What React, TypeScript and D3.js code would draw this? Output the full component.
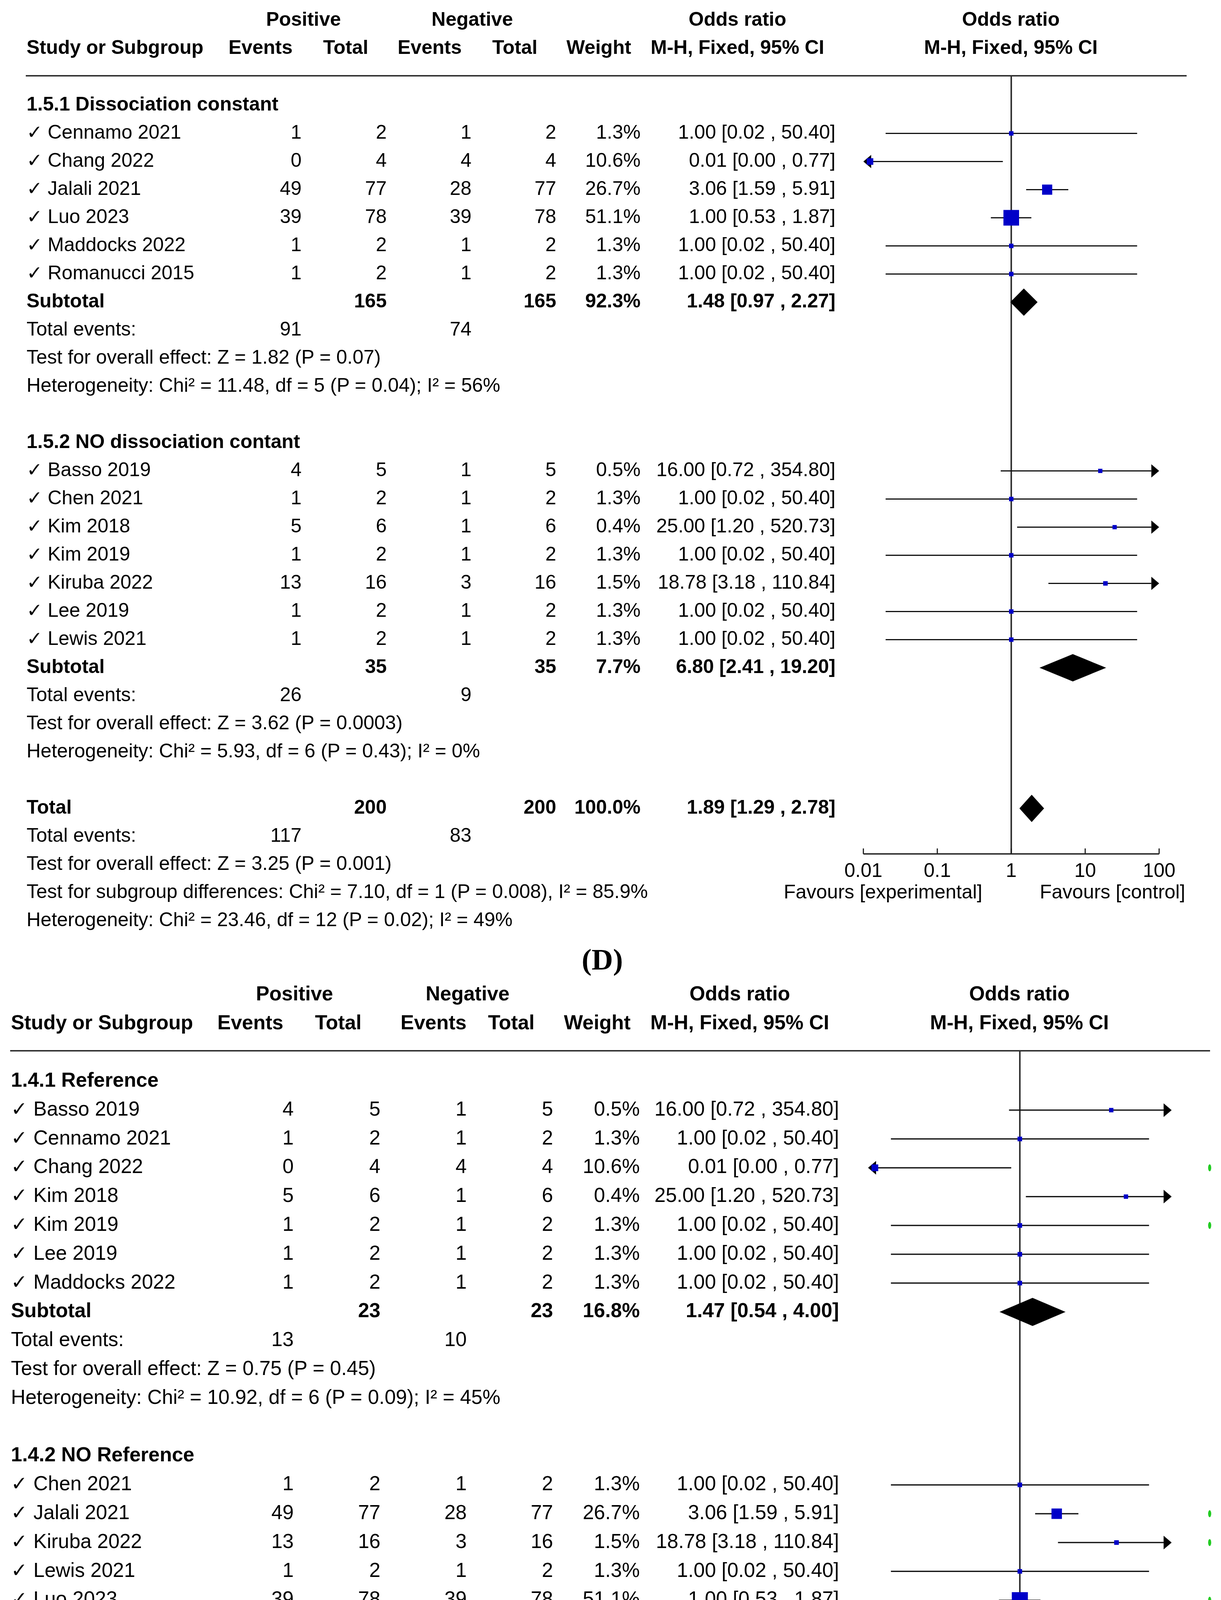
import React from 'react';
import * as d3 from 'd3';

const W = 3126;
const H = 5101;

type Study = [string, number, number, number, number, number, number, number, number];
// [name, posEvents, posTotal, negEvents, negTotal, weight%, OR, lower, upper]

// ---------- Panel D ----------
const dSec1Title = '1.5.1 Dissociation constant';
const dSec1Studies: Study[] = [
  ['Cennamo 2021', 1, 2, 1, 2, 1.3, 1.0, 0.02, 50.4],
  ['Chang 2022', 0, 4, 4, 4, 10.6, 0.0123, 0.0002, 0.77],
  ['Jalali 2021', 49, 77, 28, 77, 26.7, 3.06, 1.59, 5.91],
  ['Luo 2023', 39, 78, 39, 78, 51.1, 1.0, 0.53, 1.87],
  ['Maddocks 2022', 1, 2, 1, 2, 1.3, 1.0, 0.02, 50.4],
  ['Romanucci 2015', 1, 2, 1, 2, 1.3, 1.0, 0.02, 50.4],
];
const dSec1Subtotal = [165, 165, 92.3, 1.48, 0.97, 2.27];
const dSec1Events = [91, 74];
const dSec1Texts = [
  'Test for overall effect: Z = 1.82 (P = 0.07)',
  'Heterogeneity: Chi² = 11.48, df = 5 (P = 0.04); I² = 56%',
];

const dSec2Title = '1.5.2 NO dissociation contant';
const dSec2Studies: Study[] = [
  ['Basso 2019', 4, 5, 1, 5, 0.5, 16.0, 0.72, 354.8],
  ['Chen 2021', 1, 2, 1, 2, 1.3, 1.0, 0.02, 50.4],
  ['Kim 2018', 5, 6, 1, 6, 0.4, 25.0, 1.2, 520.73],
  ['Kim 2019', 1, 2, 1, 2, 1.3, 1.0, 0.02, 50.4],
  ['Kiruba 2022', 13, 16, 3, 16, 1.5, 18.78, 3.18, 110.84],
  ['Lee 2019', 1, 2, 1, 2, 1.3, 1.0, 0.02, 50.4],
  ['Lewis 2021', 1, 2, 1, 2, 1.3, 1.0, 0.02, 50.4],
];
const dSec2Subtotal = [35, 35, 7.7, 6.8, 2.41, 19.2];
const dSec2Events = [26, 9];
const dSec2Texts = [
  'Test for overall effect: Z = 3.62 (P = 0.0003)',
  'Heterogeneity: Chi² = 5.93, df = 6 (P = 0.43); I² = 0%',
];

const dTotal = [200, 200, 100.0, 1.89, 1.29, 2.78];
const dTotalEvents = [117, 83];
const dTotalTexts = [
  'Test for overall effect: Z = 3.25 (P = 0.001)',
  'Test for subgroup differences: Chi² = 7.10, df = 1 (P = 0.008), I² = 85.9%',
  'Heterogeneity: Chi² = 23.46, df = 12 (P = 0.02); I² = 49%',
];

// ---------- Panel E ----------
const eSec1Title = '1.4.1 Reference';
const eSec1Studies: Study[] = [
  ['Basso 2019', 4, 5, 1, 5, 0.5, 16.0, 0.72, 354.8],
  ['Cennamo 2021', 1, 2, 1, 2, 1.3, 1.0, 0.02, 50.4],
  ['Chang 2022', 0, 4, 4, 4, 10.6, 0.0123, 0.0002, 0.77],
  ['Kim 2018', 5, 6, 1, 6, 0.4, 25.0, 1.2, 520.73],
  ['Kim 2019', 1, 2, 1, 2, 1.3, 1.0, 0.02, 50.4],
  ['Lee 2019', 1, 2, 1, 2, 1.3, 1.0, 0.02, 50.4],
  ['Maddocks 2022', 1, 2, 1, 2, 1.3, 1.0, 0.02, 50.4],
];
const eSec1Subtotal = [23, 23, 16.8, 1.47, 0.54, 4.0];
const eSec1Events = [13, 10];
const eSec1Texts = [
  'Test for overall effect: Z = 0.75 (P = 0.45)',
  'Heterogeneity: Chi² = 10.92, df = 6 (P = 0.09); I² = 45%',
];

const eSec2Title = '1.4.2 NO Reference';
const eSec2Studies: Study[] = [
  ['Chen 2021', 1, 2, 1, 2, 1.3, 1.0, 0.02, 50.4],
  ['Jalali 2021', 49, 77, 28, 77, 26.7, 3.06, 1.59, 5.91],
  ['Kiruba 2022', 13, 16, 3, 16, 1.5, 18.78, 3.18, 110.84],
  ['Lewis 2021', 1, 2, 1, 2, 1.3, 1.0, 0.02, 50.4],
  ['Luo 2023', 39, 78, 39, 78, 51.1, 1.0, 0.53, 1.87],
  ['Romanucci 2015', 1, 2, 1, 2, 1.3, 1.0, 0.02, 50.4],
];
const eSec2Subtotal = [177, 177, 83.2, 1.98, 1.31, 2.99];
const eSec2Events = [104, 73];
const eSec2Texts = [
  'Test for overall effect: Z = 3.22 (P = 0.001)',
  'Heterogeneity: Chi² = 12.76, df = 5 (P = 0.03); I² = 61%',
];

const eTotal = [200, 200, 100.0, 1.89, 1.29, 2.78];
const eTotalEvents = [117, 83];
const eTotalTexts = [
  'Test for overall effect: Z = 3.25 (P = 0.001)',
  'Test for subgroup differences: Chi² = 0.29, df = 1 (P = 0.59), I² = 0%',
  'Heterogeneity: Chi² = 23.46, df = 12 (P = 0.02); I² = 49%',
];
const eGreenStudies = ['Chang 2022', 'Kim 2019', 'Jalali 2021', 'Kiruba 2022', 'Luo 2023'];

const axisTicks = [0.01, 0.1, 1, 10, 100];
const axisTickLabels = ['0.01', '0.1', '1', '10', '100'];

const FONT = '"Liberation Sans", Arial, Helvetica, sans-serif';

type Cfg = {
  s: number; fs: number; x0: number; nameDx: number;
  posEv: number; posTot: number; negEv: number; negTot: number; wRight: number; orRight: number;
  x1: number; decade: number;
  head1: number; head2: number; headLine: number; lineX0: number; lineX1: number;
  row0: number; step: number; axisY: number; tickLabelY: number; favY: number;
  hPos: number; hNeg: number; hEv1: number; hTot1: number; hEv2: number; hTot2: number; hW: number; hMH1: number; hMH2: number;
  label: string; labelX: number; labelY: number; greenX: number;
};

const cfgD: Cfg = {
  s: 1, fs: 50, x0: 68, nameDx: 54,
  posEv: 772, posTot: 990, negEv: 1207, negTot: 1424, wRight: 1640, orRight: 2139,
  x1: 2589, decade: 189.3,
  head1: 66, head2: 138, headLine: 194, lineX0: 66, lineX1: 3038,
  row0: 283, step: 72, axisY: 2186, tickLabelY: 2245, favY: 2300,
  hPos: 777, hNeg: 1209, hEv1: 667, hTot1: 885, hEv2: 1100, hTot2: 1318, hW: 1533, hMH1: 1888, hMH2: 2588,
  label: '(D)', labelX: 1542, labelY: 2482, greenX: -1,
};

const cfgE: Cfg = {
  s: 1.028, fs: 51.5, x0: 28, nameDx: 56,
  posEv: 752, posTot: 974, negEv: 1195, negTot: 1416, wRight: 1638, orRight: 2148,
  x1: 2611, decade: 194.3,
  head1: 2561, head2: 2635, headLine: 2690, lineX0: 26, lineX1: 3098,
  row0: 2782, step: 73.8, axisY: 4734, tickLabelY: 4792, favY: 4847,
  hPos: 754, hNeg: 1197, hEv1: 641, hTot1: 866, hEv2: 1110, hTot2: 1309, hW: 1529, hMH1: 1894, hMH2: 2610,
  label: '(E)', labelX: 1543, labelY: 5065, greenX: 3097,
};

type Section = { title: string; studies: Study[]; subtotal: number[]; events: number[]; texts: string[] };

type Row =
  | { kind: 'section'; text: string }
  | { kind: 'study'; d: Study }
  | { kind: 'sub'; label: string; d: number[] }
  | { kind: 'events'; d: number[] }
  | { kind: 'text'; text: string }
  | { kind: 'blank' };

const fmtOR = (or: number, lo: number, hi: number) =>
  `${or.toFixed(2)} [${lo.toFixed(2)} , ${hi.toFixed(2)}]`;

function Panel({ cfg, sections, total, totalEvents, totalTexts, greens }: {
  cfg: Cfg; sections: Section[]; total: number[]; totalEvents: number[]; totalTexts: string[]; greens: string[];
}) {
  const s = cfg.s;
  const x = d3.scaleLog().domain([0.01, 100]).range([cfg.x1 - 2 * cfg.decade, cfg.x1 + 2 * cfg.decade]);
  const rows: Row[] = [];
  sections.forEach((sec, i) => {
    if (i > 0) rows.push({ kind: 'blank' });
    rows.push({ kind: 'section', text: sec.title });
    sec.studies.forEach((st) => rows.push({ kind: 'study', d: st }));
    rows.push({ kind: 'sub', label: 'Subtotal', d: sec.subtotal });
    rows.push({ kind: 'events', d: sec.events });
    sec.texts.forEach((t) => rows.push({ kind: 'text', text: t }));
  });
  rows.push({ kind: 'blank' });
  rows.push({ kind: 'sub', label: 'Total', d: total });
  rows.push({ kind: 'events', d: totalEvents });
  totalTexts.forEach((t) => rows.push({ kind: 'text', text: t }));

  const fs = cfg.fs;
  const AL = 20 * s;
  const AH = 17 * s;
  const dh = 35 * s;

  const txt = (key: string, xx: number, yy: number, t: string | number, anchor: string, bold = false) => (
    <text key={key} x={xx} y={yy} textAnchor={anchor as any} fontWeight={bold ? 'bold' : 'normal'}>{t}</text>
  );

  const els: React.ReactNode[] = [];
  rows.forEach((r, i) => {
    const y = cfg.row0 + i * cfg.step;
    const cy = y - 13.5 * s;
    if (r.kind === 'section') {
      els.push(txt(`sec${i}`, cfg.x0, y, r.text, 'start', true));
    } else if (r.kind === 'study') {
      const [name, pe, pt, ne, nt, w, or, lo, hi] = r.d;
      els.push(
        <text key={`chk${i}`} x={cfg.x0} y={y} fontFamily='"DejaVu Sans", sans-serif' fontWeight="bold" fontSize={fs * 0.98}>✓</text>
      );
      els.push(txt(`nm${i}`, cfg.x0 + cfg.nameDx * s, y, name, 'start'));
      els.push(txt(`pe${i}`, cfg.posEv, y, pe, 'end'));
      els.push(txt(`pt${i}`, cfg.posTot, y, pt, 'end'));
      els.push(txt(`ne${i}`, cfg.negEv, y, ne, 'end'));
      els.push(txt(`nt${i}`, cfg.negTot, y, nt, 'end'));
      els.push(txt(`w${i}`, cfg.wRight, y, `${w.toFixed(1)}%`, 'end'));
      els.push(txt(`or${i}`, cfg.orRight, y, fmtOR(or, lo, hi), 'end'));
      const leftArrow = lo < 0.01;
      const rightArrow = hi > 100;
      const xl = x(Math.max(lo, 0.01)) + (leftArrow ? AL : 0);
      const xr = x(Math.min(hi, 100)) - (rightArrow ? AL : 0);
      els.push(<line key={`ci${i}`} x1={xl} x2={xr} y1={cy} y2={cy} stroke="#111" strokeWidth={3.2 * s} />);
      if (leftArrow) {
        const xt = x(0.01);
        els.push(<path key={`la${i}`} d={`M${xt},${cy}L${xt + AL},${cy - AH}L${xt + AL},${cy + AH}Z`} fill="#000" />);
      }
      if (rightArrow) {
        const xt = x(100);
        els.push(<path key={`ra${i}`} d={`M${xt},${cy}L${xt - AL},${cy - AH}L${xt - AL},${cy + AH}Z`} fill="#000" />);
      }
      const side = (10.7 + 0.574 * w) * s;
      els.push(<rect key={`sq${i}`} x={x(or) - side / 2} y={cy - side / 2} width={side} height={side} fill="#0000c8" />);
      if (greens.indexOf(name) >= 0 && cfg.greenX > 0) {
        els.push(<ellipse key={`g${i}`} cx={cfg.greenX} cy={cy} rx={4} ry={9} fill="#22cc22" />);
      }
    } else if (r.kind === 'sub') {
      const [pt, nt, w, or, lo, hi] = r.d;
      els.push(txt(`sl${i}`, cfg.x0, y, r.label, 'start', true));
      els.push(txt(`spt${i}`, cfg.posTot, y, pt, 'end', true));
      els.push(txt(`snt${i}`, cfg.negTot, y, nt, 'end', true));
      els.push(txt(`sw${i}`, cfg.wRight, y, `${w.toFixed(1)}%`, 'end', true));
      els.push(txt(`sor${i}`, cfg.orRight, y, fmtOR(or, lo, hi), 'end', true));
      els.push(
        <path key={`dm${i}`} d={`M${x(lo)},${cy}L${x(or)},${cy - dh}L${x(hi)},${cy}L${x(or)},${cy + dh}Z`} fill="#000" />
      );
    } else if (r.kind === 'events') {
      els.push(txt(`el${i}`, cfg.x0, y, 'Total events:', 'start'));
      els.push(txt(`ep${i}`, cfg.posEv, y, r.d[0], 'end'));
      els.push(txt(`en${i}`, cfg.negEv, y, r.d[1], 'end'));
    } else if (r.kind === 'text') {
      els.push(txt(`t${i}`, cfg.x0, y, r.text, 'start'));
    }
  });

  return (
    <g fontFamily={FONT} fontSize={fs} fill="#000">
      <g fontWeight="bold">
        <text x={cfg.hPos} y={cfg.head1} textAnchor="middle">Positive</text>
        <text x={cfg.hNeg} y={cfg.head1} textAnchor="middle">Negative</text>
        <text x={cfg.hMH1} y={cfg.head1} textAnchor="middle">Odds ratio</text>
        <text x={cfg.hMH2} y={cfg.head1} textAnchor="middle">Odds ratio</text>
        <text x={cfg.x0} y={cfg.head2}>Study or Subgroup</text>
        <text x={cfg.hEv1} y={cfg.head2} textAnchor="middle">Events</text>
        <text x={cfg.hTot1} y={cfg.head2} textAnchor="middle">Total</text>
        <text x={cfg.hEv2} y={cfg.head2} textAnchor="middle">Events</text>
        <text x={cfg.hTot2} y={cfg.head2} textAnchor="middle">Total</text>
        <text x={cfg.hW} y={cfg.head2} textAnchor="middle">Weight</text>
        <text x={cfg.hMH1} y={cfg.head2} textAnchor="middle">M-H, Fixed, 95% CI</text>
        <text x={cfg.hMH2} y={cfg.head2} textAnchor="middle">M-H, Fixed, 95% CI</text>
      </g>
      <line x1={cfg.lineX0} x2={cfg.lineX1} y1={cfg.headLine} y2={cfg.headLine} stroke="#222" strokeWidth={3.5} />
      <line x1={x(1)} x2={x(1)} y1={cfg.headLine} y2={cfg.axisY} stroke="#333" strokeWidth={4} />
      {els}
      <line x1={x(0.01)} x2={x(100)} y1={cfg.axisY} y2={cfg.axisY} stroke="#222" strokeWidth={3.5} />
      {axisTicks.map((t, i) => (
        <g key={`tk${i}`}>
          <line x1={x(t)} x2={x(t)} y1={cfg.axisY} y2={cfg.axisY - 14 * s} stroke="#222" strokeWidth={3} />
          <text x={x(t)} y={cfg.tickLabelY} textAnchor="middle">{axisTickLabels[i]}</text>
        </g>
      ))}
      <text x={x(1) - 74 * s} y={cfg.favY} textAnchor="end">Favours [experimental]</text>
      <text x={x(1) + 73 * s} y={cfg.favY} textAnchor="start">Favours [control]</text>
      <text x={cfg.labelX} y={cfg.labelY} textAnchor="middle" fontFamily='"Liberation Serif", "Times New Roman", serif' fontWeight="bold" fontSize={76}>{cfg.label}</text>
    </g>
  );
}

export default function App() {
  const dSections: Section[] = [
    { title: dSec1Title, studies: dSec1Studies, subtotal: dSec1Subtotal, events: dSec1Events, texts: dSec1Texts },
    { title: dSec2Title, studies: dSec2Studies, subtotal: dSec2Subtotal, events: dSec2Events, texts: dSec2Texts },
  ];
  const eSections: Section[] = [
    { title: eSec1Title, studies: eSec1Studies, subtotal: eSec1Subtotal, events: eSec1Events, texts: eSec1Texts },
    { title: eSec2Title, studies: eSec2Studies, subtotal: eSec2Subtotal, events: eSec2Events, texts: eSec2Texts },
  ];
  return (
    <div style={{ margin: -8, width: W, height: H, background: '#fff', overflow: 'hidden' }}>
      <svg width={W} height={H} viewBox={`0 0 ${W} ${H}`} style={{ display: 'block' }}>
        <rect x={0} y={0} width={W} height={H} fill="#fff" />
        <Panel cfg={cfgD} sections={dSections} total={dTotal} totalEvents={dTotalEvents} totalTexts={dTotalTexts} greens={[]} />
        <Panel cfg={cfgE} sections={eSections} total={eTotal} totalEvents={eTotalEvents} totalTexts={eTotalTexts} greens={eGreenStudies} />
      </svg>
    </div>
  );
}
